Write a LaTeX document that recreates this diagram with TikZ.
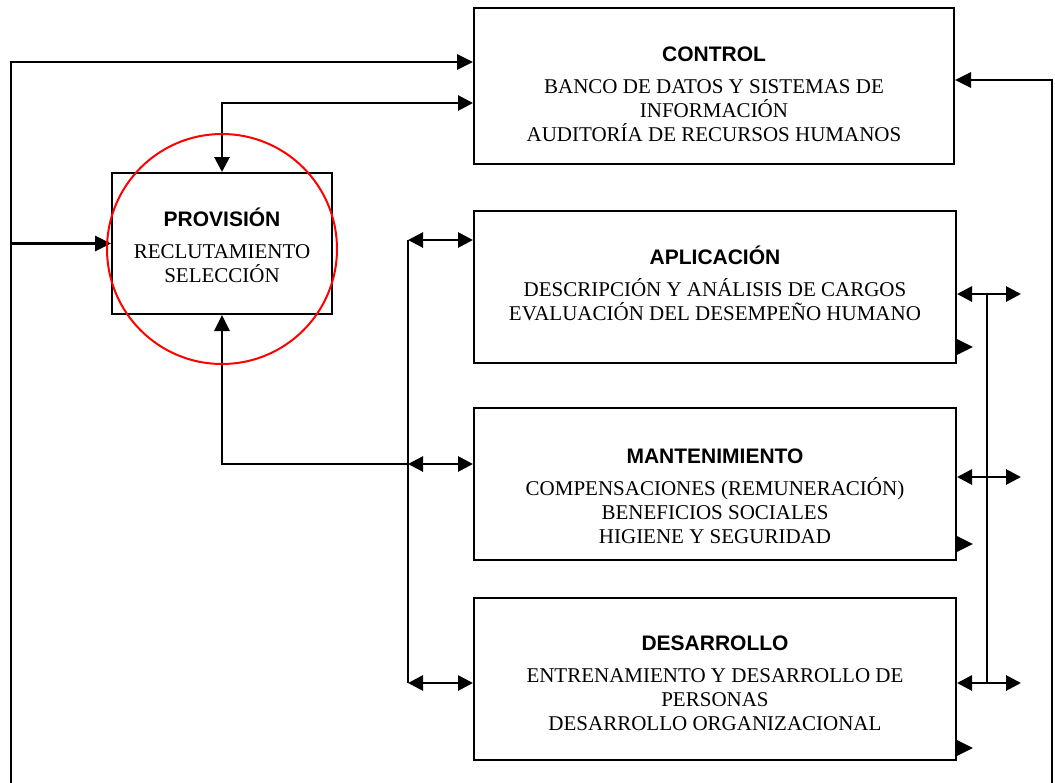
\documentclass[tikz,border=0pt]{standalone}
\usepackage{fontspec}
\setmainfont{Liberation Serif}
\setsansfont{Liberation Sans}
\usetikzlibrary{arrows.meta, calc}

\newcommand{\encabezado}[1]{{\sffamily\bfseries #1}\\[8pt]}

\tikzset{
    caja/.style={rectangle, draw=black, line width=2pt, inner sep=0pt},
    texto/.style={align=center, inner sep=0pt, font=\fontsize{21}{24}\selectfont},
    linea/.style={line width=2.8pt},
    flecha/.style={linea, -{Triangle[length=16pt,width=15pt]}},
    doble/.style={linea, {Triangle[length=15pt,width=15pt]}-{Triangle[length=15pt,width=15pt]}},
    punta/.style={linea, -{Triangle[length=16pt,width=15pt]}}
}

\begin{document}
\begin{tikzpicture}[x=1pt, y=-1pt]
    \useasboundingbox (0,0) rectangle (1055,782);

    \node[caja, minimum width=480pt, minimum height=156pt] (ctrl) at (714,86) {};
    \node[caja, minimum width=220pt, minimum height=141pt] (prov) at (222,243.5) {};
    \node[caja, minimum width=482pt, minimum height=152pt] (apl) at (715,287) {};
    \node[caja, minimum width=482pt, minimum height=152pt] (mant) at (715,484) {};
    \node[caja, minimum width=482pt, minimum height=162pt] (des) at (715,679) {};

    \node[texto] (ctrltxt) at (714,94) {\encabezado{CONTROL}BANCO DE DATOS Y SISTEMAS DE\\INFORMACIÓN\\AUDITORÍA DE RECURSOS HUMANOS};
    \node[texto] (provtxt) at (222,245) {\encabezado{PROVISIÓN}RECLUTAMIENTO\\SELECCIÓN};
    \node[texto] (apltxt) at (715,283) {\encabezado{APLICACIÓN}DESCRIPCIÓN Y ANÁLISIS DE CARGOS\\EVALUACIÓN DEL DESEMPEÑO HUMANO};
    \node[texto] (manttxt) at (715,496) {\encabezado{MANTENIMIENTO}COMPENSACIONES (REMUNERACIÓN)\\BENEFICIOS SOCIALES\\HIGIENE Y SEGURIDAD};
    \node[texto] (destxt) at (715,683) {\encabezado{DESARROLLO}ENTRENAMIENTO Y DESARROLLO DE\\PERSONAS\\DESARROLLO ORGANIZACIONAL};

    \coordinate (izq) at (11,790);
    \coordinate (der) at (1052,790);
    \coordinate (busL) at (408,0);
    \coordinate (busR) at (987,0);

    \coordinate (aplL) at ($(apl.north west)+(0,30)$);
    \coordinate (mantL) at ($(mant.north west)+(0,57)$);
    \coordinate (desL) at ($(des.north west)+(0,86)$);
    \coordinate (aplR) at ($(apl.north east)+(0,84)$);
    \coordinate (mantR) at ($(mant.north east)+(0,70)$);
    \coordinate (desR) at ($(des.north east)+(0,86)$);

    % lineas exteriores
    \draw[flecha] (izq) |- ([yshift=24pt]ctrl.west);
    \draw[flecha] (prov.west -| izq) -- (prov.west);
    \draw[flecha] (der) |- ([yshift=6pt]ctrl.east);
    \draw[doble] ([yshift=-17pt]ctrl.west) -| (prov.north);

    % bus izquierdo
    \draw[linea] (aplL -| busL) -- (desL -| busL);
    \draw[doble] (aplL -| busL) -- (aplL);
    \draw[doble] (mantL -| busL) -- (mantL);
    \draw[doble] (desL -| busL) -- (desL);
    \draw[flecha] (mantL -| busL) -| (prov.south);

    % bus derecho
    \draw[linea] (aplR -| busR) -- (desR -| busR);
    \draw[doble] (aplR) -- +(64,0);
    \draw[doble] (mantR) -- +(64,0);
    \draw[doble] (desR) -- +(64,0);

    \draw[punta] ($(apl.south east)+(0,-17)$) -- +(16,0);
    \draw[punta] ($(mant.south east)+(0,-17)$) -- +(16,0);
    \draw[punta] ($(des.south east)+(0,-13)$) -- +(16,0);

    \node[circle, draw=red, line width=2pt, minimum size=230pt, inner sep=0pt] (marca) at (222,249) {};
\end{tikzpicture}
\end{document}
